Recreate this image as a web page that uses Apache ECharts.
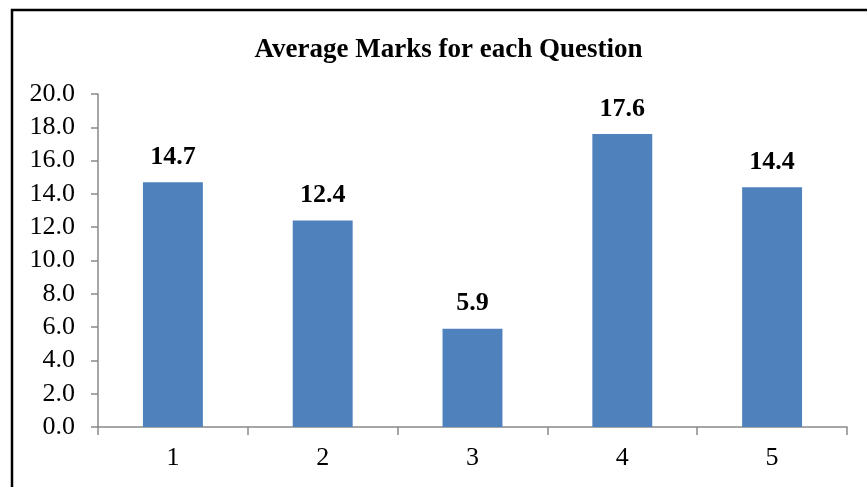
<!DOCTYPE html>
<html><head><meta charset="utf-8">
<script src="https://cdn.jsdelivr.net/npm/echarts@6/dist/echarts.min.js"></script>
<style>html,body{margin:0;padding:0;background:#fff}#c{width:867px;height:487px}</style>
</head><body><div id="c"></div>
<script>
var categories = ['1','2','3','4','5'];
var averageMarks = [14.7, 12.4, 5.9, 17.6, 14.4];
var yTicks = [0,2,4,6,8,10,12,14,16,18,20];

var chart = echarts.init(document.getElementById('c'));
var serif = '"Liberation Serif", "Times New Roman", serif';
chart.setOption({
  animation: false,
  backgroundColor: '#fff',
  graphic: [{
    type: 'rect', silent: true,
    shape: {x: 12, y: 10, width: 1000, height: 1000},
    style: {fill: 'none', stroke: '#000', lineWidth: 2.5}
  }],
  title: {
    text: 'Average Marks for each Question',
    left: 443.5, top: 32, textAlign: 'center',
    textStyle: {fontFamily: serif, fontWeight: 'bold', fontSize: 27, color: '#000'}
  },
  grid: {left: 98, right: 20, top: 94, bottom: 60, containLabel: false},
  xAxis: {
    type: 'category', data: categories,
    axisLine: {lineStyle: {color: '#898989', width: 1.5}},
    axisTick: {show: true, length: 8, lineStyle: {color: '#898989', width: 1.5}},
    axisLabel: {fontFamily: serif, fontSize: 26, color: '#000', margin: 18}
  },
  yAxis: {
    type: 'value', min: yTicks[0], max: yTicks[yTicks.length-1], interval: 2,
    axisLine: {show: true, lineStyle: {color: '#898989', width: 1.5}},
    axisTick: {show: true, length: 7, lineStyle: {color: '#898989', width: 1.5}},
    splitLine: {show: false},
    axisLabel: {fontFamily: serif, fontSize: 26, color: '#000', margin: 23,
      formatter: function(v){ return v.toFixed(1); }}
  },
  series: [{
    type: 'bar', data: averageMarks, barWidth: '40%',
    itemStyle: {color: '#4F81BD'},
    label: {show: true, position: 'top', distance: 12,
      fontFamily: serif, fontWeight: 'bold', fontSize: 26, color: '#000',
      formatter: function(p){ return p.value.toFixed(1); }}
  }]
});
</script></body></html>
